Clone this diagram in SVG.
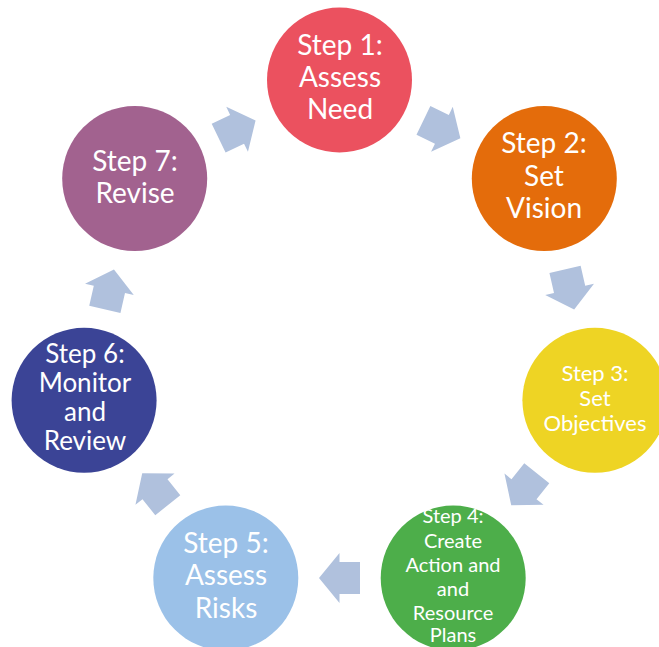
<svg xmlns="http://www.w3.org/2000/svg" width="659" height="647" viewBox="0 0 659 647">
  <defs>
    <style>
      .lbl { font-family: Lato, "Open Sans", sans-serif; fill: #ffffff; text-anchor: middle; }
      .big { font-size: 28px; }
      .mid { font-size: 26px; }
      .sm3 { font-size: 22px; }
      .sm4 { font-size: 20px; }
      .arrow { fill: #b0c1dd; }
    </style>
    <!-- block arrow pointing along +x, centred on its own origin -->
    <polygon id="blk" class="arrow" points="-20.5,-16 0,-16 0,-25 20.5,0 0,25 0,16 -20.5,16"/>
  </defs>
  <rect width="659" height="647" fill="#ffffff"/>

  <g id="connectors">
    <use href="#blk" transform="translate(441.9,129.3) rotate(25.71)"/>
    <use href="#blk" transform="translate(569.6,289.4) rotate(77.14)"/>
    <use href="#blk" transform="translate(524.0,489.2) rotate(128.57)"/>
    <use href="#blk" transform="translate(339.5,578.1) rotate(180)"/>
    <use href="#blk" transform="translate(155.0,489.2) rotate(231.43)"/>
    <use href="#blk" transform="translate(109.4,289.4) rotate(282.86)"/>
    <use href="#blk" transform="translate(237.1,129.3) rotate(334.29)"/>
  </g>

  <g id="step1">
    <circle cx="339.5" cy="80" r="72.5" fill="#eb515f"/>
    <text class="lbl big" x="340" y="55">Step 1:</text>
    <text class="lbl big" x="340" y="87">Assess</text>
    <text class="lbl big" x="340" y="119">Need</text>
  </g>
  <g id="step2">
    <circle cx="544.3" cy="178.6" r="72.5" fill="#e46c0b"/>
    <text class="lbl big" x="544" y="153">Step 2:</text>
    <text class="lbl big" x="544" y="186">Set</text>
    <text class="lbl big" x="544" y="218">Vision</text>
  </g>
  <g id="step3">
    <circle cx="594.9" cy="400.3" r="72.5" fill="#eed424"/>
    <text class="lbl sm3" x="595" y="381">Step 3:</text>
    <text class="lbl sm3" x="595" y="406">Set</text>
    <text class="lbl sm3" x="595" y="431">Objectives</text>
  </g>
  <g id="step4">
    <circle cx="453.2" cy="578.1" r="72.5" fill="#4dae4a"/>
    <text class="lbl sm4" x="453" y="523">Step 4:</text>
    <text class="lbl sm4" x="453" y="548">Create</text>
    <text class="lbl sm4" x="453" y="572">Action and</text>
    <text class="lbl sm4" x="453" y="596">and</text>
    <text class="lbl sm4" x="453" y="620">Resource</text>
    <text class="lbl sm4" x="453" y="642">Plans</text>
  </g>
  <g id="step5">
    <circle cx="225.8" cy="578.1" r="72.5" fill="#9bc1e8"/>
    <text class="lbl big" x="226" y="553">Step 5:</text>
    <text class="lbl big" x="226" y="585">Assess</text>
    <text class="lbl big" x="226" y="618">Risks</text>
  </g>
  <g id="step6">
    <circle cx="84.1" cy="400.3" r="72.5" fill="#3b4496"/>
    <text class="lbl mid" x="85" y="363">Step 6:</text>
    <text class="lbl mid" x="85" y="392">Monitor</text>
    <text class="lbl mid" x="85" y="421">and</text>
    <text class="lbl mid" x="85" y="450">Review</text>
  </g>
  <g id="step7">
    <circle cx="134.7" cy="178.6" r="72.5" fill="#a2628f"/>
    <text class="lbl big" x="135" y="171">Step 7:</text>
    <text class="lbl big" x="135" y="203">Revise</text>
  </g>
</svg>
